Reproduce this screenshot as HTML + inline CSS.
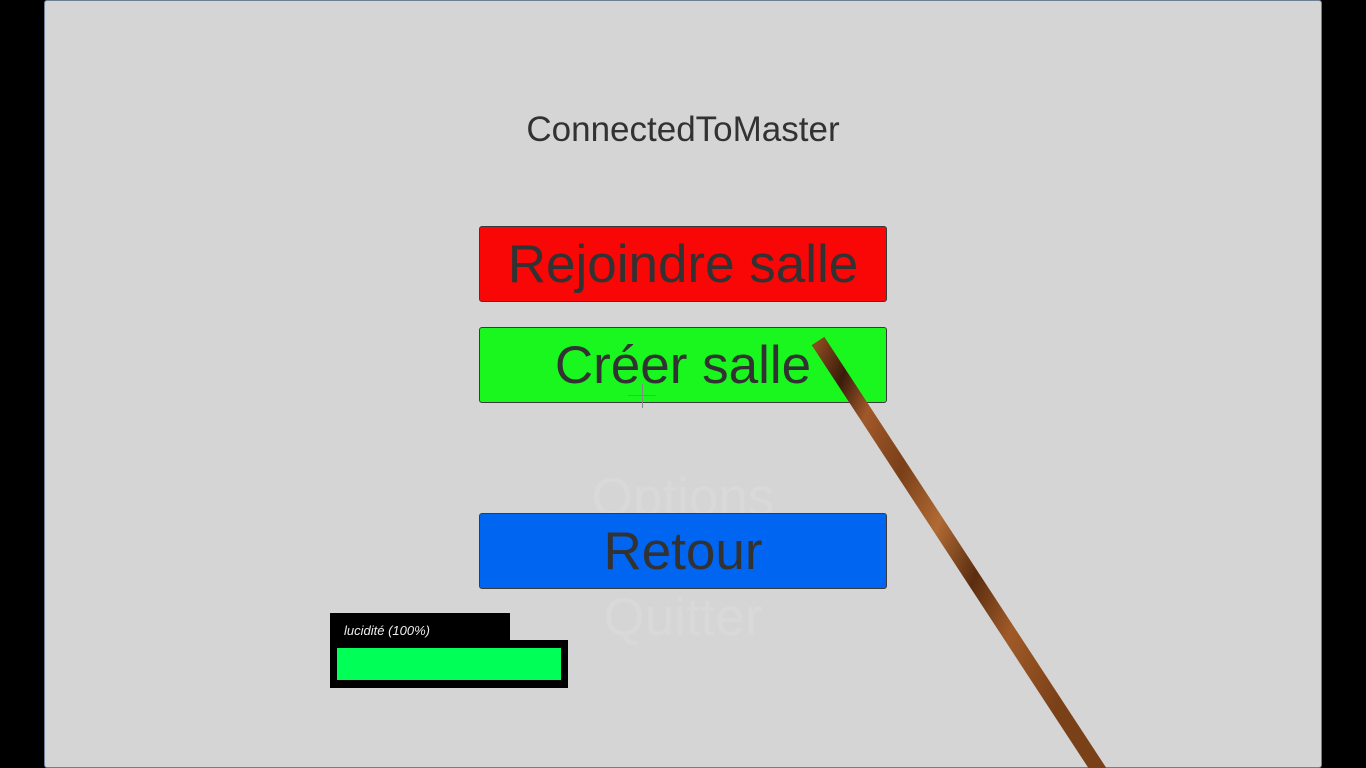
<!DOCTYPE html>
<html><head><meta charset="utf-8">
<style>
html,body{margin:0;padding:0;width:1366px;height:768px;background:#000;overflow:hidden;font-family:"Liberation Sans",sans-serif;}
#panel{position:absolute;left:44px;top:0;width:1276px;height:766px;background:#d5d5d5;border:1px solid #6f7f98;border-radius:3px;}
.t{position:absolute;color:#323232;text-align:center;white-space:nowrap;}
.btn{position:absolute;left:479px;width:406px;height:74px;border:1px solid #3a3a3a;border-radius:3px;display:flex;align-items:center;justify-content:center;font-size:53px;color:#323232;}
.faint{position:absolute;left:479px;width:408px;text-align:center;font-size:53px;color:#d9d9d9;}
</style></head><body>
<div id="panel"></div>
<div class="t" style="left:479px;width:408px;top:110px;font-size:35px;">ConnectedToMaster</div>
<div class="btn" style="top:226px;background:#f90606;">Rejoindre salle</div>
<div class="btn" style="top:327px;background:#19f71e;">Créer salle</div>
<div class="faint" style="top:467px;">Options</div>
<div class="btn" style="top:513px;background:#0066f2;">Retour</div>
<div class="faint" style="top:587px;">Quitter</div>
<div style="position:absolute;left:628px;top:395px;width:28px;height:1px;background:#888;"></div>
<div style="position:absolute;left:642px;top:384px;width:1px;height:24px;background:#888;"></div>
<div style="position:absolute;left:330px;top:613px;width:180px;height:28px;background:#000;color:#eee;font-size:13px;font-style:italic;line-height:36px;box-sizing:border-box;padding-left:14px;">lucidité (100%)</div>
<div style="position:absolute;left:330px;top:640px;width:238px;height:48px;background:#000;">
<div style="position:absolute;left:7px;top:8px;width:224px;height:32px;background:#00ff57;"></div>
</div>
<svg width="1366" height="768" style="position:absolute;left:0;top:0;">
<defs><linearGradient id="g" x1="0" y1="0" x2="1" y2="0.6">
<stop offset="0" stop-color="#8a4a1e"/><stop offset="0.1" stop-color="#3a1c0a"/><stop offset="0.2" stop-color="#a0582a"/><stop offset="0.35" stop-color="#7a3f18"/><stop offset="0.5" stop-color="#b06a34"/><stop offset="0.65" stop-color="#5a2d10"/><stop offset="0.8" stop-color="#a05a28"/><stop offset="1" stop-color="#7a4018"/></linearGradient></defs>
<line x1="818" y1="341" x2="1100" y2="772" stroke="url(#g)" stroke-width="15"/>
</svg>
</body></html>
